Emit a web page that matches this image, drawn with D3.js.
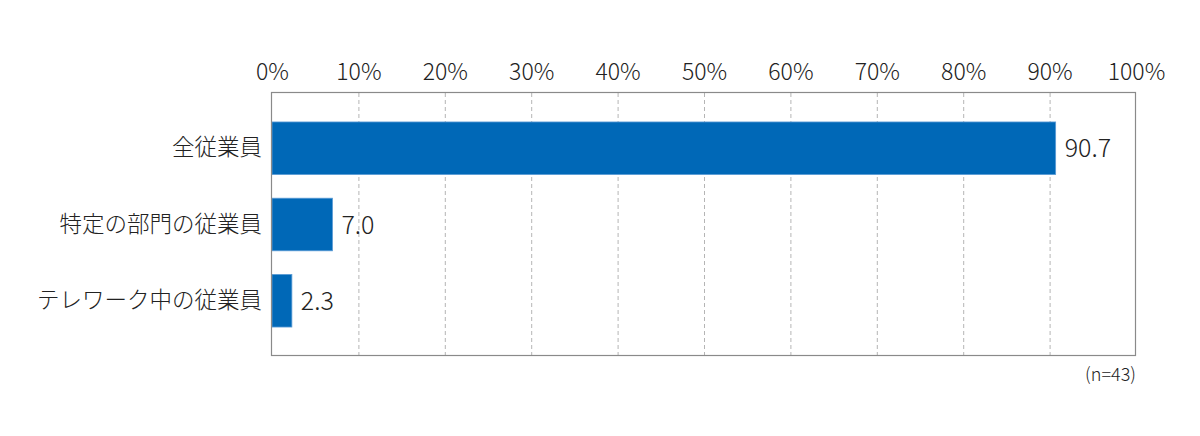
<!DOCTYPE html>
<html>
<head>
<meta charset="utf-8">
<script src="https://cdn.jsdelivr.net/npm/d3@7"></script>
<style>
  body { margin: 0; background: #fff; }
  svg text { font-family: "Noto Sans CJK JP", "Noto Sans", sans-serif; font-weight: 300; fill: #222; }
</style>
</head>
<body>
<div id="chart"></div>
<script>
/* DATA */
const categories = ["全従業員", "特定の部門の従業員", "テレワーク中の従業員"];
const values = [90.7, 7.0, 2.3];
const ticks = [0, 10, 20, 30, 40, 50, 60, 70, 80, 90, 100];
const note = "(n=43)";

/* CONSTANTS */
const width = 1200,
  height = 436,
  margin = { top: 93, bottom: 80, left: 272, right: 64 };

const svg = d3.select("#chart")
  .append("svg")
  .attr("width", width)
  .attr("height", height);

// scales
const xScale = d3.scaleLinear()
  .domain([0, 100])
  .range([margin.left, width - margin.right]);

const yScale = d3.scaleBand()
  .domain(categories)
  .range([margin.top, height - margin.bottom])
  .paddingInner(0.31)
  .paddingOuter(0.38);

// dashed gridlines
svg.append("g")
  .selectAll("line")
  .data(ticks.slice(1, -1))
  .join("line")
  .attr("x1", d => xScale(d) + 0.5)
  .attr("x2", d => xScale(d) + 0.5)
  .attr("y1", margin.top)
  .attr("y2", height - margin.bottom)
  .attr("stroke", "#b5b5b5")
  .attr("stroke-dasharray", "4,3");

// top axis labels
const xAxis = d3.axisTop(xScale)
  .tickValues(ticks)
  .tickFormat(d => d + "%")
  .tickSize(0)
  .tickPadding(13);

svg.append("g")
  .attr("transform", `translate(0, ${margin.top})`)
  .call(xAxis)
  .call(g => g.select(".domain").remove())
  .selectAll("text")
  .attr("font-size", 23)
  .attr("fill", "#222");

// bars
svg.append("g")
  .selectAll("rect")
  .data(values)
  .join("rect")
  .attr("x", xScale(0))
  .attr("y", (d, i) => yScale(categories[i]))
  .attr("width", d => xScale(d) - xScale(0))
  .attr("height", yScale.bandwidth())
  .attr("fill", "#0068b7")
  .attr("stroke", "#5b9bd5")
  .attr("stroke-width", 0.8);

// value labels
svg.append("g")
  .selectAll("text")
  .data(values)
  .join("text")
  .attr("x", d => xScale(d) + 9)
  .attr("y", (d, i) => yScale(categories[i]) + yScale.bandwidth() / 2)
  .attr("dy", "0.36em")
  .attr("font-size", 25)
  .text(d => d.toFixed(1));

// category labels
const yAxis = d3.axisLeft(yScale)
  .tickSize(0)
  .tickPadding(10);

svg.append("g")
  .attr("transform", `translate(${margin.left}, 0)`)
  .call(yAxis)
  .call(g => g.select(".domain").remove())
  .selectAll("text")
  .attr("font-size", 22.5)
  .attr("fill", "#222");

// plot frame
svg.append("rect")
  .attr("x", margin.left - 0.5)
  .attr("y", margin.top - 0.5)
  .attr("width", xScale(100) - xScale(0))
  .attr("height", height - margin.bottom - margin.top)
  .attr("fill", "none")
  .attr("stroke", "#8a8a8a")
  .attr("stroke-width", 1.2);

// sample size note
svg.append("text")
  .attr("x", xScale(100))
  .attr("y", height - margin.bottom + 25)
  .attr("text-anchor", "end")
  .attr("font-size", 18)
  .text(note);
</script>
</body>
</html>
